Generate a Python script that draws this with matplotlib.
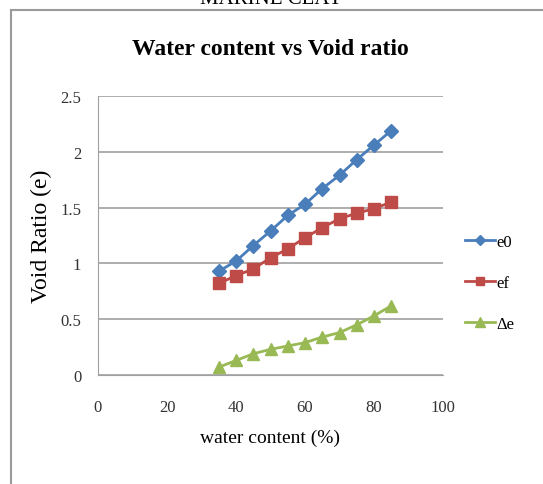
import matplotlib
matplotlib.use("Agg")
import matplotlib.pyplot as plt
from matplotlib.patches import Rectangle

# data
water = [35, 40, 45, 50, 55, 60, 65, 70, 75, 80, 85]
e0 = [0.93, 1.02, 1.16, 1.29, 1.43, 1.53, 1.67, 1.79, 1.93, 2.06, 2.19]
ef = [0.82, 0.89, 0.95, 1.05, 1.13, 1.23, 1.32, 1.40, 1.45, 1.49, 1.55]
de = [0.07, 0.13, 0.19, 0.23, 0.26, 0.29, 0.34, 0.38, 0.45, 0.53, 0.62]
x_ticks = [0, 20, 40, 60, 80, 100]
y_ticks = [0, 0.5, 1, 1.5, 2, 2.5]

plt.rcParams['font.family'] = ['Liberation Serif', 'DejaVu Serif']

fig = plt.figure(figsize=(5.43, 4.85), dpi=100)

# outer chart frame and the clipped heading above it
fig.patches.append(Rectangle((11/543, -0.05), 1.1, 1 - 11/485 + 0.05, transform=fig.transFigure,
                             fill=False, edgecolor='#9a9a9a', linewidth=1.5, zorder=0))
fig.text(0.5, 1.0, "MARINE CLAY", ha='center', va='center', fontsize=15)

ax = fig.add_axes([98/543, 1 - 376/485, 345/543, 279/485])

ax.plot(water, e0, color='#4a7ebb', marker='D', markersize=7, linewidth=2, label='e0')
ax.plot(water, ef, color='#be4b48', marker='s', markersize=8, linewidth=2, label='ef')
ax.plot(water, de, color='#98b954', marker='^', markersize=9, linewidth=2, label='Δe')

ax.set_xlim(0, 100)
ax.set_ylim(0, 2.5)
ax.set_xticks(x_ticks)
ax.set_yticks(y_ticks)
ax.set_yticklabels(['0', '0.5', '1', '1.5', '2', '2.5'])
ax.tick_params(axis='y', length=0, labelsize=12, colors='#333333', pad=12)
ax.tick_params(axis='x', length=0, labelsize=12, colors='#333333', pad=17)
ax.yaxis.grid(True, color='#a0a0a0', linewidth=1.2)
ax.set_axisbelow(True)
for s in ['top', 'right']:
    ax.spines[s].set_visible(False)
ax.spines['left'].set_color('#a0a0a0')
ax.spines['bottom'].set_color('#a0a0a0')

ax.set_title("Water content vs Void ratio", fontsize=17, fontweight='bold', pad=30)
ax.set_xlabel("water content (%)", fontsize=14, labelpad=10)
ax.set_ylabel("Void Ratio (e)", fontsize=17, labelpad=6)

ax.legend(loc='center left', bbox_to_anchor=(1.02, 0.33), frameon=False, fontsize=12,
          handlelength=1.8, handletextpad=0.1, labelspacing=1.5, markerscale=0.8)

fig.savefig("out.png", dpi=100)
